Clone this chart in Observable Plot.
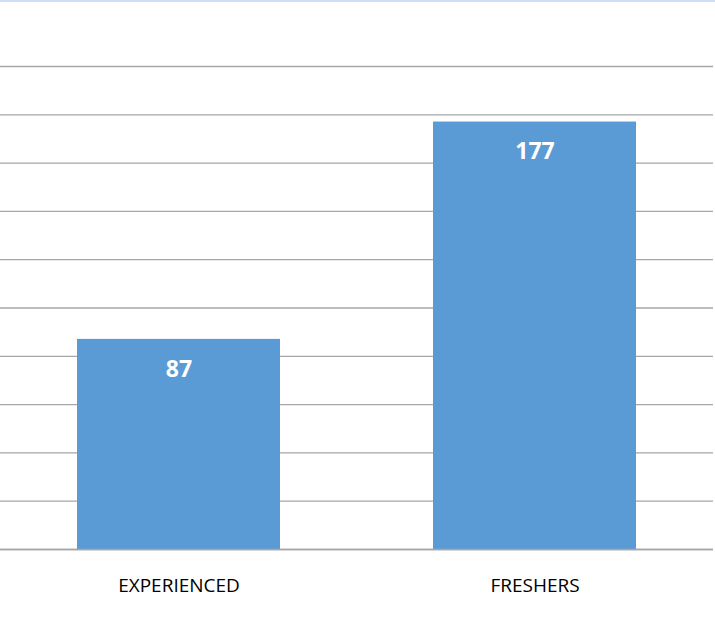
<!DOCTYPE html>
<html>
<head>
<meta charset="utf-8">
<script src="https://cdn.jsdelivr.net/npm/d3@7"></script>
<script src="https://cdn.jsdelivr.net/npm/@observablehq/plot@0.6"></script>
<style>
  html, body { margin: 0; padding: 0; background: #fff; }
  #chart { border-top: 2px solid #cfdcf8; width: 715px; }
</style>
</head>
<body>
<div id="chart"></div>
<script>
const categories = ["EXPERIENCED", "FRESHERS"];
const values = [87, 177];
const gridTicks = [0, 20, 40, 60, 80, 100, 120, 140, 160, 180, 200];

const data = categories.map((c, i) => ({category: c, value: values[i]}));

const chart = Plot.plot({
  width: 715,
  height: 626,
  marginTop: 64,
  marginBottom: 79,
  marginLeft: 0,
  marginRight: 2,
  style: {fontFamily: "Open Sans, sans-serif", background: "#fff"},
  x: {domain: categories, paddingInner: 0.43, paddingOuter: 0.215, label: null},
  y: {domain: [0, 200], label: null, axis: null},
  marks: [
    Plot.ruleY(gridTicks, {stroke: "#a6a6a6", strokeWidth: 1.3}),
    Plot.barY(data, {x: "category", y: "value", fill: "#5b9bd5"}),
    Plot.ruleY([0], {stroke: "#a6a6a6", strokeWidth: 1.5}),
    Plot.text(data, {x: "category", y: "value", text: d => String(d.value), dy: 30, fill: "#fff", fontWeight: "bold", fontSize: 23}),
    Plot.axisX({tickSize: 0, tickPadding: 29, fontSize: 19, fill: "#000", label: null})
  ]
});
document.getElementById("chart").appendChild(chart);
</script>
</body>
</html>
